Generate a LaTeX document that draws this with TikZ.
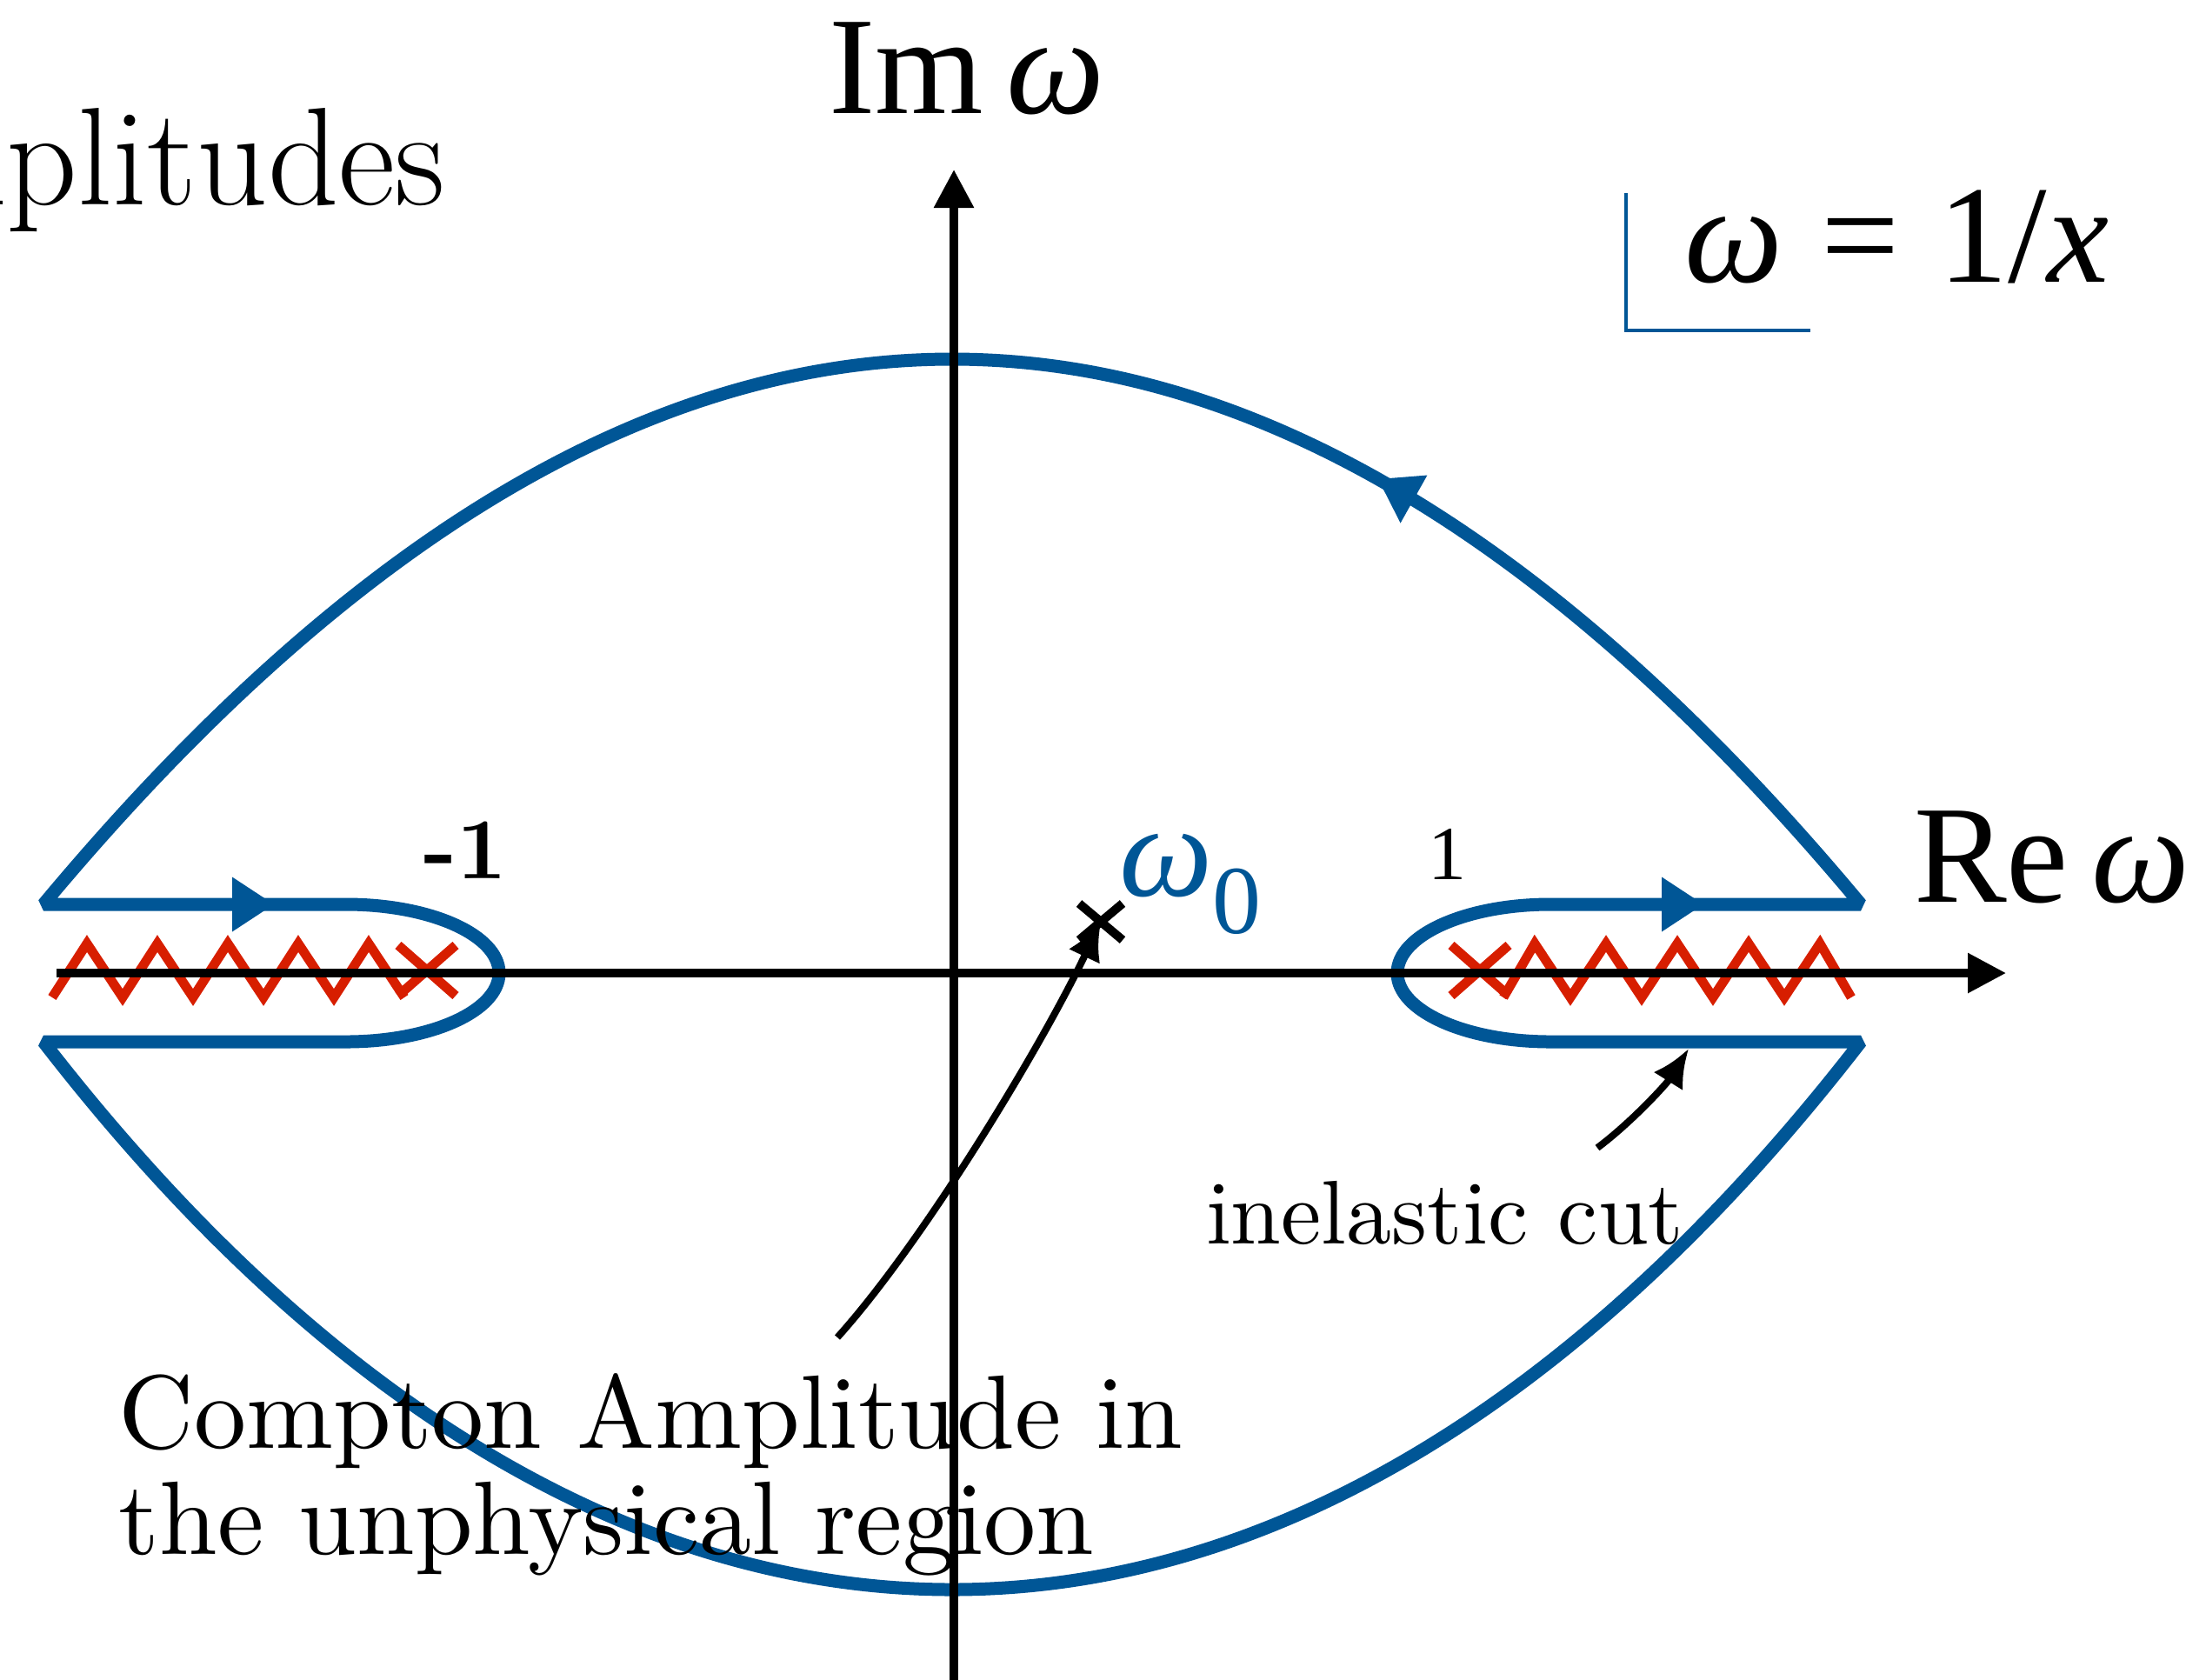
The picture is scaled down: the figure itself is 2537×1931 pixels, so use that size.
\documentclass[tikz,border=0pt]{standalone}
\usepackage{fontspec}
\newfontfamily\tms{Liberation Serif}
\newfontfamily\lmten[BoldFont=lmroman10-bold.otf]{lmroman10-regular.otf}
\usetikzlibrary{arrows.meta}
\definecolor{cblue}{RGB}{0,86,150}
\definecolor{cred}{RGB}{215,30,0}
\tikzset{
  contour/.style={draw=cblue, line width=3.75pt, line join=bevel},
  zig/.style={draw=cred, line width=2.7pt, line join=miter},
  axisline/.style={draw=black, line width=2.3pt, -{Triangle[length=11pt,width=11pt]}},
  ptr/.style={draw=black, line width=2pt, -{Latex[length=11pt,width=10pt]}},
  tip/.style={fill=cblue},
  lbl/.style={anchor=base west, inner sep=0pt, outer sep=0pt}
}
\begin{document}
\begin{tikzpicture}[x=0.25pt,y=-0.25pt]
\useasboundingbox (0,0) rectangle (2537,1931);
\clip (0,0) rectangle (2537,1931);

% contour
\draw[contour] (2140,1040) .. controls (1443,204) and (747,204) .. (50,1040)
  -- (398,1040) arc[start angle=90,end angle=-90,x radius=44pt,y radius=19.75pt]
  -- (50,1198) .. controls (700,2038) and (1490,2038) .. (2140,1198)
  -- (1783,1198) arc[start angle=270,end angle=90,x radius=44pt,y radius=19.75pt]
  -- cycle;

% cuts
\draw[zig] (60,1147) -- (100,1085) -- (141,1147) -- (181,1085) -- (222,1147) -- (262,1085)
  -- (303,1147) -- (343,1085) -- (384,1147) -- (424,1085) -- (465,1147);
\draw[zig] (458,1087) -- (524,1145) (458,1145) -- (524,1087);
\draw[zig] (1669,1087) -- (1735,1145) (1669,1145) -- (1735,1087);
\draw[zig] (1729,1147) -- (1765,1085) -- (1806,1147) -- (1847,1085) -- (1888,1147) -- (1929,1085)
  -- (1970,1147) -- (2011,1085) -- (2052,1147) -- (2093,1085) -- (2129,1147);

% axes
\coordinate (xs) at (65,1119);
\coordinate (xe) at (2307,1119);
\coordinate (ys) at (1097,1935);
\coordinate (ye) at (1097,195);
\draw[axisline] (xs) -- (xe);
\draw[axisline] (ys) -- (ye);

% contour arrowheads
\fill[tip] (267,1008.5) -- (315,1040) -- (267,1071.5) -- cycle;
\fill[tip] (1911,1008.5) -- (1959,1040) -- (1911,1071.5) -- cycle;
\fill[tip] (1585,551) -- (1641.4,546.5) -- (1610.6,601.5) -- cycle;

% omega_0 pole
\coordinate (w0) at (1266,1060);
\draw[line width=2.5pt] (1241,1039) -- (1291,1081) (1241,1081) -- (1291,1039);

% blue corner mark
\draw[cblue, line width=1pt] (1870,222) -- (1870,380) -- (2082,380);

% labels
\node[lbl] (im) at (953,130) {\tms\fontsize{40}{40}\selectfont Im\,{\itshape ω}};
\node[lbl] (re) at (2201,1037) {\tms\fontsize{40}{40}\selectfont Re\,{\itshape ω}};
\node[lbl] (wx) at (1937,324) {\tms\fontsize{40}{40}\selectfont{\itshape ω}\hspace{0.28em}=\hspace{0.28em}1/{\itshape x}};
\node[lbl, text=cblue] (w0l) at (1287,1030) {\tms\fontsize{38}{38}\selectfont{\itshape ω}\raisebox{-10.75pt}{\fontsize{28}{28}\selectfont 0}};
\node[lbl] (m1) at (487,1010) {\lmten\fontsize{25}{25}\selectfont\bfseries -1};
\node[lbl] (p1) at (1642,1011) {\tms\fontsize{22}{22}\selectfont 1};
\node[lbl] (inel) at (1387,1430) {\lmten\fontsize{26}{26}\selectfont inelastic cut};
\node[lbl] (c1) at (137,1665) {\lmten\fontsize{30}{30}\selectfont Compton Amplitude in};
\node[lbl] (c2) at (137,1787) {\lmten\fontsize{30}{30}\selectfont the unphysical region};
\node[anchor=base east, inner sep=0pt] (amp) at (513,235) {\fontsize{40}{40}\selectfont Amplitudes};

% pointers
\coordinate (ca) at (963,1538);
\coordinate (ia) at (1837,1320);
\coordinate (it) at (1942,1206);
\draw[ptr] (ca) .. controls (1063,1427) and (1199,1201) .. (w0);
\draw[ptr] (ia) .. controls (1877,1290) and (1917,1246) .. (it);
\end{tikzpicture}
\end{document}
